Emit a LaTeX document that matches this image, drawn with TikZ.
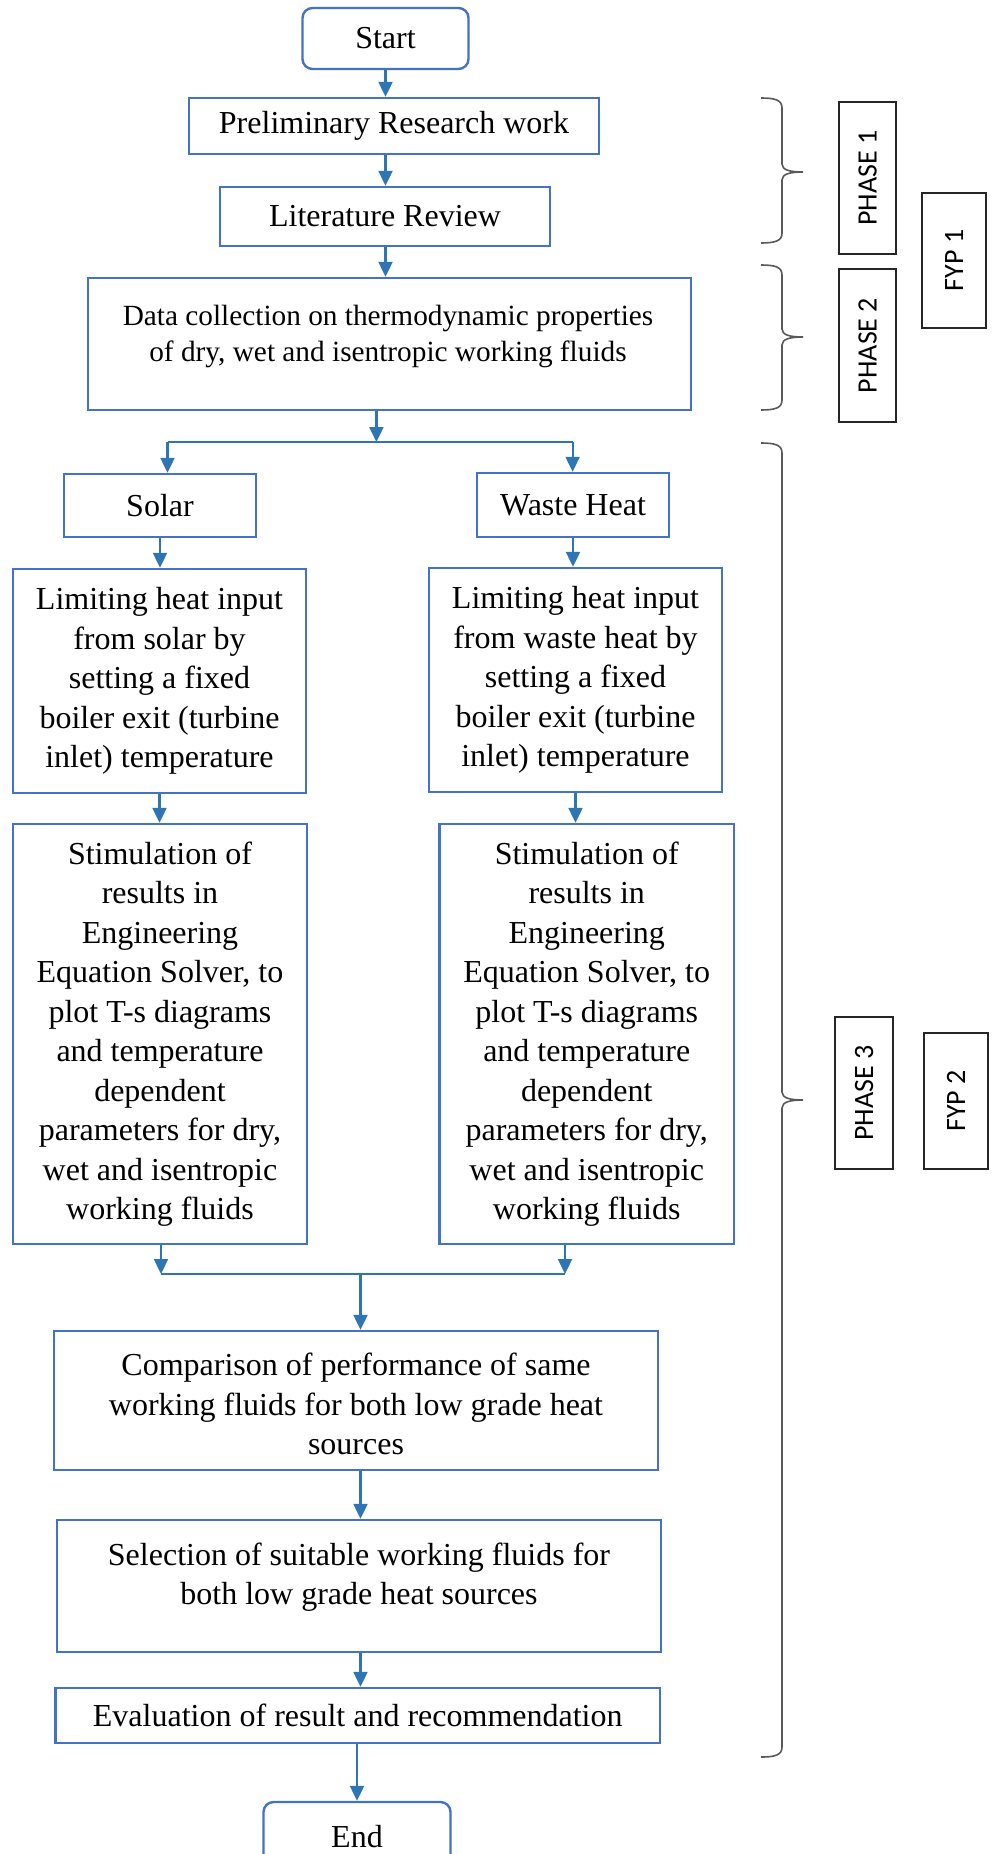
\documentclass[tikz,border=0pt]{standalone}
\usepackage{fontspec}
\setmainfont{Liberation Serif}
\newfontfamily\phasefont{Carlito}
\usetikzlibrary{arrows.meta,calc}
\definecolor{boxblue}{RGB}{68,114,196}
\definecolor{arrblue}{RGB}{46,117,182}
\definecolor{bracegray}{RGB}{89,89,89}
\begin{document}
\begin{tikzpicture}[x=1pt,y=-1pt,
  box/.style={draw=boxblue, line width=2.4pt, inner sep=0pt, align=center,
              font=\fontsize{32}{39.5}\selectfont},
  term/.style={box, rounded corners=10pt},
  txt/.style={inner sep=0pt, align=center, font=\fontsize{32}{39.5}\selectfont},
  arr/.style={draw=arrblue, line width=2.2pt, -{Triangle[length=15pt,width=14pt]}},
  conn/.style={draw=arrblue, line width=2.2pt},
  phase/.style={draw=black!85, line width=1.8pt, inner sep=0pt, rotate=90,
                font=\phasefont\fontsize{28}{34}\selectfont},
  brace/.style={draw=bracegray, line width=1.6pt}]
\useasboundingbox (0,0) rectangle (997,1854);
\clip (0,0) rectangle (997,1854);

% main boxes
\node[term, minimum width=166, minimum height=61] (start) at (385.5,38.5) {Start};
\node[box, minimum width=410, minimum height=56] (prelim) at (394,126) {Preliminary Research work};
\node[box, minimum width=330, minimum height=59] (lit) at (385,216.5) {Literature Review};
\node[box, minimum width=603, minimum height=132] (data) at (389.5,344) {};
\node[txt, font=\fontsize{29.3}{36}\selectfont] (datatxt) at (388,336) {Data collection on thermodynamic properties\\of dry, wet and isentropic working fluids};
\node[box, minimum width=192, minimum height=63] (solar) at (160,505.5) {Solar};
\node[box, minimum width=192, minimum height=64] (waste) at (573,505) {Waste Heat};
\node[box, minimum width=293, minimum height=224] (lim1) at (159.5,681) {Limiting heat input\\from solar by\\setting a fixed\\boiler exit (turbine\\inlet) temperature};
\node[box, minimum width=293, minimum height=224] (lim2) at (575.5,680) {Limiting heat input\\from waste heat by\\setting a fixed\\boiler exit (turbine\\inlet) temperature};
\node[box, minimum width=294, minimum height=420] (stim1) at (160,1034) {Stimulation of\\results in\\Engineering\\Equation Solver, to\\plot T-s diagrams\\and temperature\\dependent\\parameters for dry,\\wet and isentropic\\working fluids};
\node[box, minimum width=294.5, minimum height=420] (stim2) at (586.75,1034) {Stimulation of\\results in\\Engineering\\Equation Solver, to\\plot T-s diagrams\\and temperature\\dependent\\parameters for dry,\\wet and isentropic\\working fluids};
\node[box, minimum width=604, minimum height=139] (comp) at (356,1400.5) {};
\node[txt] (comptxt) at (356,1404) {Comparison of performance of same\\working fluids for both low grade heat\\sources};
\node[box, minimum width=604, minimum height=132] (sel) at (359,1586) {};
\node[txt] (seltxt) at (359,1577) {Selection of suitable working fluids for\\both low grade heat sources};
\node[box, minimum width=604.5, minimum height=55] (eval) at (357.75,1715.5) {Evaluation of result and recommendation};
\node[term, minimum width=187, minimum height=70] (end) at (357,1837) {End};

% junction points
\coordinate (split) at (376.4,442);
\coordinate (splitL) at (167.5,442);
\coordinate (splitR) at (572.6,442);
\coordinate (mergeL) at (161,1274);
\coordinate (mergeR) at (565,1274);
\coordinate (merge) at (360.5,1274);

% connectors
\draw[arr] (start.south) -- (start.south |- prelim.north);
\draw[arr] (prelim.south -| start.south) -- (lit.north -| start.south);
\draw[arr] (lit.south -| start.south) -- (data.north -| start.south);
\draw[arr] (data.south -| split) -- (split);
\draw[conn] (splitL) -- (splitR);
\draw[arr] (splitL) -- (splitL |- solar.north);
\draw[arr] (splitR) -- (splitR |- waste.north);
\draw[arr] (solar.south) -- (solar.south |- lim1.north);
\draw[arr] (waste.south) -- (waste.south |- lim2.north);
\draw[arr] (lim1.south) -- (lim1.south |- stim1.north);
\draw[arr] (lim2.south) -- (lim2.south |- stim2.north);
\draw[arr] (stim1.south -| mergeL) -- (mergeL);
\draw[arr] (stim2.south -| mergeR) -- (mergeR);
\draw[conn] (mergeL) -- (mergeR);
\draw[arr] (merge) -- (merge |- comp.north);
\draw[arr] (comp.south -| merge) -- (sel.north -| merge);
\draw[arr] (sel.south -| merge) -- (eval.north -| merge);
\draw[arr] (eval.south -| end.north) -- (end.north);

% braces
\draw[brace] (761,98) .. controls (775,98) and (782,100) .. (782,108) -- (782,164)
  .. controls (782,170) and (790,172) .. (803,172)
  .. controls (790,172) and (782,174) .. (782,180) -- (782,233)
  .. controls (782,241) and (775,243) .. (761,243);
\draw[brace] (761,265) .. controls (775,265) and (782,267) .. (782,275) -- (782,329)
  .. controls (782,335) and (790,337) .. (803,337)
  .. controls (790,337) and (782,339) .. (782,345) -- (782,400)
  .. controls (782,408) and (775,410) .. (761,410);
\draw[brace] (761,443) .. controls (775,443) and (782,445) .. (782,453) -- (782,1092)
  .. controls (782,1098) and (790,1100) .. (803,1100)
  .. controls (790,1100) and (782,1102) .. (782,1108) -- (782,1747)
  .. controls (782,1755) and (775,1757) .. (761,1757);

% phase labels
\node[phase, minimum width=152, minimum height=57] (p1) at (867.5,178) {PHASE 1};
\node[phase, minimum width=153, minimum height=57] (p2) at (867.5,345.5) {PHASE 2};
\node[phase, minimum width=135, minimum height=64] (fyp1) at (954,260.5) {FYP 1};
\node[phase, minimum width=152, minimum height=58] (p3) at (864,1093) {PHASE 3};
\node[phase, minimum width=136, minimum height=64] (fyp2) at (956,1101) {FYP 2};
\end{tikzpicture}
\end{document}
